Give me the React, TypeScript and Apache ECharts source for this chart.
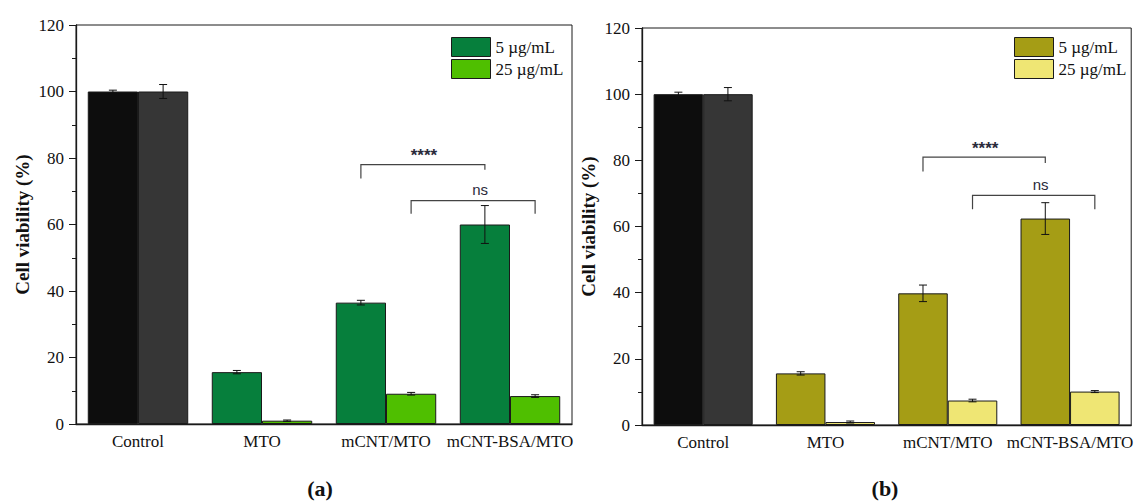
import React, { useEffect, useRef } from 'react';
import * as echarts from 'echarts';

const categories = ['Control', 'MTO', 'mCNT/MTO', 'mCNT-BSA/MTO'];
const seriesNames = ['5 µg/mL', '25 µg/mL'];

// Panel (a)
const a5 = [100, 15.6, 36.5, 60.0];
const a5Err = [0.4, 0.5, 0.7, 5.7];
const a25 = [100, 1.0, 9.1, 8.4];
const a25Err = [2.1, 0.2, 0.4, 0.4];

// Panel (b)
const b5 = [100, 15.6, 39.8, 62.4];
const b5Err = [0.6, 0.5, 2.5, 4.8];
const b25 = [100, 0.9, 7.4, 10.1];
const b25Err = [2.0, 0.3, 0.4, 0.3];

// significance brackets: [category, side(0 = 5 µg/mL, 1 = 25 µg/mL)]
const bracketsA = [
  { from: [2, 0], to: [3, 0], top: 78, leftEnd: 73.8, rightEnd: 76.5, text: '****' },
  { from: [2, 1], to: [3, 1], top: 67.2, leftEnd: 63.2, rightEnd: 63.2, text: 'ns' },
];
const bracketsB = [
  { from: [2, 0], to: [3, 0], top: 81, leftEnd: 76.6, rightEnd: 79.2, text: '****' },
  { from: [2, 1], to: [3, 1], top: 69.4, leftEnd: 65.2, rightEnd: 65.2, text: 'ns' },
];

const SERIF = '"Liberation Serif", "Times New Roman", serif';
const SANS = '"Liberation Sans", Arial, sans-serif';
const GAP = 0.19;
const AXIS_COLOR = '#1a1a1a';

const controlColors = ['#0d0d0d', '#363636'];
const colorsA = ['#067f3c', '#4fbf00'];
const colorsB = ['#a59d15', '#efe674'];

function barX(api: any, cat: number, side: number) {
  const c = api.coord([cat, 0]);
  const catW = api.size([1, 0])[0];
  const bw = (catW * (1 - GAP)) / 2;
  return c[0] + (side === 0 ? -bw / 2 : bw / 2);
}

function makeBar(prefix: string, idx: number, vals: number[], color: string, gi: number) {
  return {
    type: 'bar',
    name: prefix + '|' + seriesNames[idx],
    xAxisIndex: gi,
    yAxisIndex: gi,
    barGap: '0%',
    barCategoryGap: GAP * 100 + '%',
    itemStyle: { color, borderColor: '#1a1a1a', borderWidth: 1 },
    data: vals.map((v, i) => (i === 0 ? { value: v, itemStyle: { color: controlColors[idx] } } : v)),
  };
}

function makeErr(vals: number[], errs: number[], side: number, gi: number) {
  return {
    type: 'custom',
    xAxisIndex: gi,
    yAxisIndex: gi,
    silent: true,
    z: 5,
    encode: { x: 0, y: 1 },
    data: vals.map((v, i) => [i, v, errs[i]]),
    renderItem: (params: any, api: any) => {
      const cat = api.value(0);
      const v = api.value(1);
      const e = api.value(2);
      const x = barX(api, cat, side);
      const yT = api.coord([cat, v + e])[1];
      const yB = api.coord([cat, v - e])[1];
      const cap = 4;
      const st = { stroke: '#111', lineWidth: 1 };
      return {
        type: 'group',
        children: [
          { type: 'line', shape: { x1: x, y1: yT, x2: x, y2: yB }, style: st },
          { type: 'line', shape: { x1: x - cap, y1: yT, x2: x + cap, y2: yT }, style: st },
          { type: 'line', shape: { x1: x - cap, y1: yB, x2: x + cap, y2: yB }, style: st },
        ],
      };
    },
  };
}

function makeBrackets(list: any[], gi: number) {
  return {
    type: 'custom',
    xAxisIndex: gi,
    yAxisIndex: gi,
    silent: true,
    z: 6,
    encode: { x: 0, y: 1 },
    data: list.map((b, i) => [b.from[0], b.top, i]),
    renderItem: (params: any, api: any) => {
      const b = list[params.dataIndex];
      const x1 = barX(api, b.from[0], b.from[1]);
      const x2 = barX(api, b.to[0], b.to[1]);
      const yTop = api.coord([0, b.top])[1];
      const yL = api.coord([0, b.leftEnd])[1];
      const yR = api.coord([0, b.rightEnd])[1];
      const isNs = b.text === 'ns';
      return {
        type: 'group',
        children: [
          {
            type: 'polyline',
            shape: { points: [[x1, yL], [x1, yTop], [x2, yTop], [x2, yR]] },
            style: { stroke: '#444', lineWidth: 1.2, fill: 'none' },
          },
          {
            type: 'text',
            x: (x1 + x2) / 2 + (isNs ? 7 : 1),
            y: yTop - (isNs ? 11 : 9),
            style: {
              text: b.text,
              fill: '#2a2a3a',
              font: (isNs ? '15px ' : 'bold 17px ') + SANS,
              align: 'center',
              verticalAlign: 'middle',
            },
          },
        ],
      };
    },
  };
}

function yAxis(gi: number) {
  const ls = { color: AXIS_COLOR, width: 1.3 };
  return {
    type: 'value',
    gridIndex: gi,
    min: 0,
    max: 120,
    interval: 20,
    axisLine: { show: true, lineStyle: ls },
    axisTick: { show: true, inside: false, length: 7, lineStyle: { color: AXIS_COLOR, width: 1 } },
    minorTick: { show: true, splitNumber: 2, length: 4, lineStyle: { color: AXIS_COLOR, width: 1 } },
    splitLine: { show: false },
    axisLabel: { fontFamily: SERIF, fontSize: 17, color: '#111', margin: 12 },
    name: 'Cell viability (%)',
    nameLocation: 'middle',
    nameGap: 44,
    nameTextStyle: { fontFamily: SERIF, fontWeight: 'bold', fontSize: 19, color: '#111' },
  };
}

function xAxis(gi: number) {
  return {
    type: 'category',
    gridIndex: gi,
    data: categories,
    axisLine: { show: true, lineStyle: { color: AXIS_COLOR, width: 1.3 } },
    axisTick: { show: false },
    axisLabel: { interval: 0, fontFamily: SERIF, fontSize: 17, color: '#111', margin: 9 },
  };
}

function legend(prefix: string, left: number) {
  return {
    left,
    top: 37,
    orient: 'vertical',
    padding: 0,
    itemGap: 2,
    itemWidth: 39,
    itemHeight: 19,
    icon: 'rect',
    selectedMode: false,
    data: seriesNames.map((n) => prefix + '|' + n),
    formatter: (name: string) => name.split('|')[1],
    itemStyle: { borderColor: '#1a1a1a', borderWidth: 1 },
    textStyle: { fontFamily: SERIF, fontSize: 17, color: '#111' },
  };
}

export default function App() {
  const ref = useRef<HTMLDivElement>(null);
  useEffect(() => {
    if (!ref.current) return;
    const chart = echarts.init(ref.current, undefined, { renderer: 'svg' });
    chart.setOption({
      animation: false,
      backgroundColor: '#ffffff',
      grid: [
        { left: 76, top: 25, width: 496, height: 399, show: true, borderColor: AXIS_COLOR, borderWidth: 1 },
        { left: 642, top: 28, width: 492, height: 397, show: true, borderColor: AXIS_COLOR, borderWidth: 1 },
      ],
      xAxis: [xAxis(0), xAxis(1)],
      yAxis: [yAxis(0), yAxis(1)],
      legend: [legend('a', 451), legend('b', 1014)],
      series: [
        makeBar('a', 0, a5, colorsA[0], 0),
        makeBar('a', 1, a25, colorsA[1], 0),
        makeErr(a5, a5Err, 0, 0),
        makeErr(a25, a25Err, 1, 0),
        makeBrackets(bracketsA, 0),
        makeBar('b', 0, b5, colorsB[0], 1),
        makeBar('b', 1, b25, colorsB[1], 1),
        makeErr(b5, b5Err, 0, 1),
        makeErr(b25, b25Err, 1, 1),
        makeBrackets(bracketsB, 1),
      ],
      graphic: [
        {
          type: 'text',
          x: 320,
          y: 488,
          style: { text: '(a)', font: 'bold 22px ' + SERIF, fill: '#111', align: 'center', verticalAlign: 'middle' },
        },
        {
          type: 'text',
          x: 885,
          y: 488,
          style: { text: '(b)', font: 'bold 22px ' + SERIF, fill: '#111', align: 'center', verticalAlign: 'middle' },
        },
      ],
    });
    return () => chart.dispose();
  }, []);
  return (
    <div
      ref={ref}
      style={{ position: 'absolute', left: 0, top: 0, width: 1136, height: 501, background: '#fff' }}
    />
  );
}
